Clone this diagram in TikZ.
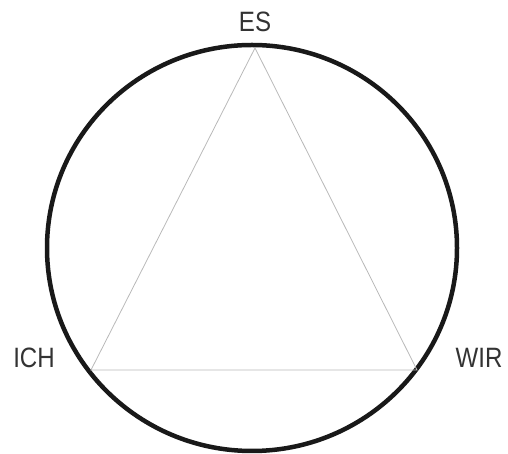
\documentclass[tikz,border=0pt]{standalone}
\usepackage{fontspec}
\newfontfamily\labelfont[FakeStretch=0.86]{Liberation Sans}
\usepackage{tikz}
\usetikzlibrary{positioning}

\begin{document}
\begin{tikzpicture}[x=1pt,y=1pt,
          every node/.style={font=\labelfont\fontsize{28}{30}\selectfont,text=black!80,inner sep=0pt},
          ring/.style={line width=4.5pt,black!90},
          tri/.style={gray!55,line width=0.8pt},
        ]
        \useasboundingbox (0,0) rectangle (508,454);
        \draw[ring] (252,206) ellipse [x radius=205,y radius=203];
        \coordinate (top)   at (255,406);
        \coordinate (left)  at (91,84);
        \coordinate (right) at (417,84);
        \draw[tri] (top) -- (right) -- (left) -- cycle;
        \node (es)  at (255,432) {ES};
        \node (ich) at (34,96.5) {ICH};
        \node (wir) at (479,96.5) {WIR};
      \end{tikzpicture}
\end{document}
